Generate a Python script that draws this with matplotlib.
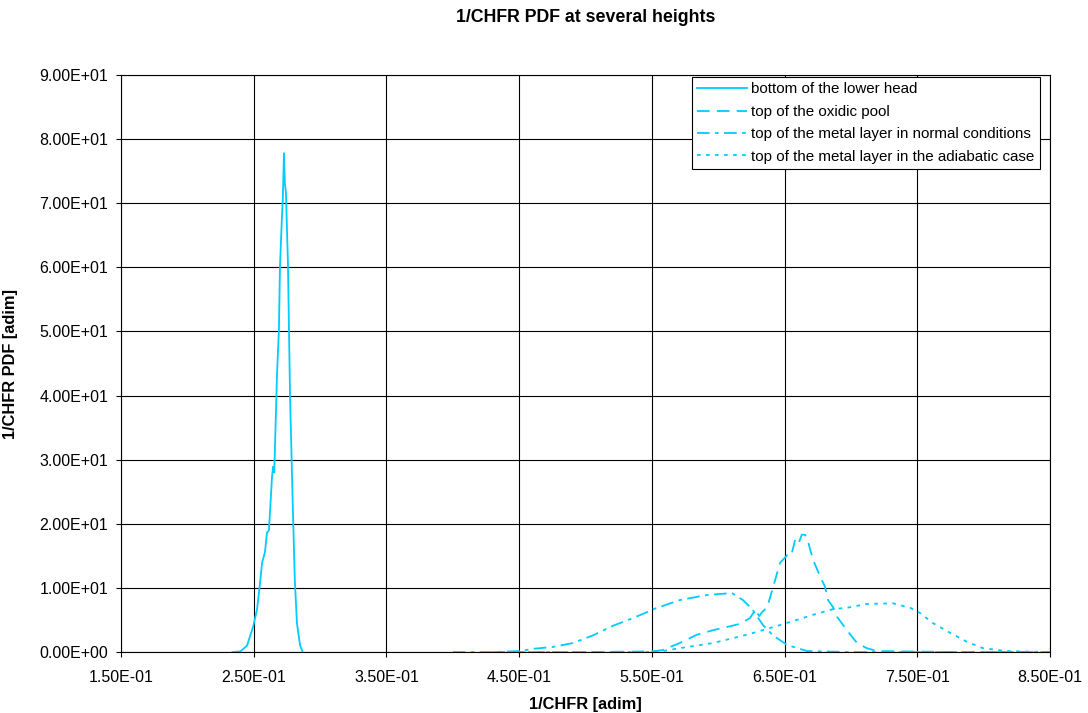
import matplotlib
matplotlib.use("Agg")
from matplotlib import pyplot as plt
from matplotlib.ticker import FuncFormatter

plt.rcParams['font.family'] = ['Liberation Sans', 'DejaVu Sans']

# bottom of the lower head
x_bottom = [0.234, 0.240, 0.245, 0.2495, 0.2525, 0.2548, 0.2563, 0.2585, 0.260, 0.2615,
            0.2638, 0.2646, 0.2655, 0.2676, 0.269, 0.2698, 0.2705, 0.2713, 0.272, 0.2728,
            0.2735, 0.2743, 0.2758, 0.2774, 0.2796, 0.281, 0.2826, 0.285, 0.287]
y_bottom = [0.0, 0.1, 1.0, 3.9, 6.6, 10.8, 13.9, 15.6, 18.6, 19.0,
            27.3, 28.9, 28.0, 43.5, 50.2, 60.0, 63.8, 67.9, 71.0, 77.8,
            73.2, 71.6, 60.7, 39.8, 21.7, 11.2, 4.5, 1.0, 0.0]

# top of the oxidic pool
x_oxidic = [0.43, 0.50, 0.55, 0.558, 0.571, 0.584, 0.596, 0.6066, 0.6165, 0.624,
            0.628, 0.631, 0.633, 0.637, 0.6415, 0.6466, 0.652, 0.655, 0.658, 0.6605,
            0.663, 0.6655, 0.668, 0.6715, 0.677, 0.6805, 0.6828, 0.6866, 0.6896, 0.697,
            0.7047, 0.712, 0.72, 0.78, 0.85]
y_oxidic = [0.0, 0.0, 0.1, 0.3, 1.4, 2.7, 3.4, 3.9, 4.4, 5.3,
            6.6, 5.6, 6.2, 7.0, 10.2, 13.9, 15.1, 15.0, 17.5, 16.9,
            18.3, 18.3, 17.0, 14.4, 11.7, 10.2, 8.1, 7.0, 5.5, 3.4,
            1.4, 0.6, 0.15, 0.0, 0.0]

# top of the metal layer in normal conditions
x_normal = [0.40, 0.43, 0.4507, 0.4605, 0.4755, 0.4906, 0.5057, 0.5208, 0.5358, 0.545,
            0.55, 0.571, 0.5916, 0.6104, 0.6187, 0.626, 0.6338, 0.6413, 0.652, 0.667,
            0.70, 0.85]
y_normal = [0.0, 0.0, 0.15, 0.5, 0.8, 1.4, 2.6, 4.1, 5.3, 6.1,
            6.6, 8.1, 8.9, 9.2, 8.1, 6.6, 4.2, 2.6, 1.1, 0.15,
            0.0, 0.0]

# top of the metal layer in the adiabatic case
x_adiab = [0.45, 0.554, 0.571, 0.596, 0.6217, 0.6466, 0.6715, 0.6866, 0.697, 0.712,
           0.7318, 0.7446, 0.752, 0.762, 0.7747, 0.7875, 0.7996, 0.8177, 0.85]
y_adiab = [0.0, 0.0, 0.6, 1.4, 2.7, 4.2, 5.8, 6.7, 6.9, 7.5,
           7.6, 6.9, 6.1, 4.5, 3.0, 1.6, 0.6, 0.15, 0.0]

x_ticks = [0.15, 0.25, 0.35, 0.45, 0.55, 0.65, 0.75, 0.85]
y_ticks = [0, 10, 20, 30, 40, 50, 60, 70, 80, 90]

color = '#00CCFF'

fig = plt.figure(figsize=(10.88, 7.13), dpi=100)
ax = fig.add_axes([0.1112, 0.0855, 0.8538, 0.8093])

ax.plot(x_bottom, y_bottom, color=color, lw=1.3, label='bottom of the lower head')
ax.plot(x_oxidic, y_oxidic, color=color, lw=1.3, dashes=(7, 4), label='top of the oxidic pool')
ax.plot(x_normal, y_normal, color=color, lw=1.3, dashes=(7, 3, 2, 3),
        label='top of the metal layer in normal conditions')
ax.plot(x_adiab, y_adiab, color=color, lw=1.3, dashes=(2, 3),
        label='top of the metal layer in the adiabatic case')

ax.set_xlim(0.15, 0.85)
ax.set_ylim(0, 90)
ax.set_xticks(x_ticks)
ax.set_yticks(y_ticks)
fmt = FuncFormatter(lambda v, p: f"{v:.2E}")
ax.xaxis.set_major_formatter(fmt)
ax.yaxis.set_major_formatter(fmt)
ax.grid(True, color='black', lw=0.8)
ax.set_axisbelow(True)
for s in ax.spines.values():
    s.set_color('black')
    s.set_linewidth(0.8)
ax.tick_params(direction='out', length=3.6, width=0.8, labelsize=11.5)
ax.tick_params(axis='x', pad=9.5)
ax.tick_params(axis='y', pad=5.5)

fig.text(0.5 * (0.1112 + 0.965), 1 - 18 / 713, '1/CHFR PDF at several heights',
         fontsize=12.8, fontweight='bold', ha='center', va='center')
fig.text(0.5 * (0.1112 + 0.965), 1 - 704 / 713, '1/CHFR [adim]',
         fontsize=11.8, fontweight='bold', ha='center', va='center')
fig.text(11 / 1088, 0.0855 + 0.8093 / 2, '1/CHFR PDF [adim]', rotation=90,
         fontsize=11.8, fontweight='bold', ha='center', va='center')

leg = ax.legend(loc='upper right', bbox_to_anchor=(0.9892, 0.9965), fontsize=10.9,
                frameon=True, fancybox=False, edgecolor='black', framealpha=1,
                handlelength=3.3, borderaxespad=0, labelspacing=0.56,
                borderpad=0.35, handletextpad=0.3)
leg.get_frame().set_linewidth(0.8)

plt.savefig("out.png")
